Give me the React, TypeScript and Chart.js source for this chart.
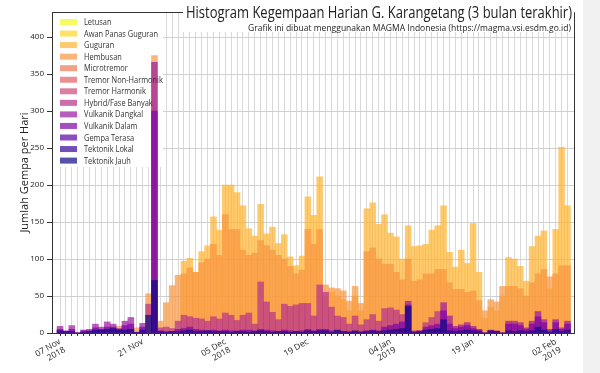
import React, { useEffect, useRef } from "react";
import { Chart, registerables } from "chart.js";

Chart.register(...registerables);

// ---------- data ----------
const START = new Date(Date.UTC(2018, 10, 7));
const DAY_COUNT = 87;
const categories: string[] = Array.from({ length: DAY_COUNT }, (_, i) => {
  const d = new Date(START.getTime() + i * 86400000);
  return d.toISOString().slice(0, 10);
});

const tickIndex = [0, 14, 28, 42, 56, 70, 84];
const tickLabels: string[][] = [
  ["07 Nov", "2018"],
  ["21 Nov"],
  ["05 Dec", "2018"],
  ["19 Dec"],
  ["04 Jan", "2019"],
  ["19 Jan"],
  ["02 Feb", "2019"],
];

const yTicks = [0, 50, 100, 150, 200, 250, 300, 350, 400];

const guguran = [
  0, 0, 0, 0, 0, 0, 0, 0, 0, 0, 0, 0, 0, 0, 0, 0, 0,
  0, 0, 0, 0,
  97, 101, 82, 110, 118, 157, 139, 200, 200, 190, 172, 141, 131, 174, 134, 143, 121, 133, 103, 91, 104, 184, 159, 211,
  50, 55, 50, 45, 30, 50, 30,
  168, 176, 147, 160, 135, 130, 100, 145, 117, 118, 120, 139, 145, 172, 109, 89, 112, 94, 148, 82,
  20, 35, 30, 50,
  102, 100, 90, 70, 117, 131, 138, 60, 140, 251, 172,
];

const hembusan = [
  0, 0, 0, 0, 0, 0, 0, 0, 0, 0, 9, 0, 0, 7, 0, 53, 375,
  16, 41, 64, 78,
  80, 88, 82, 95, 100, 120, 105, 160, 140, 140, 112, 105, 108, 125, 118, 112, 105, 100, 90, 80, 85, 140, 120, 140,
  65, 61, 60, 57, 43, 63, 40,
  110, 115, 100, 93, 93, 82, 72, 100, 70, 72, 80, 80, 86, 86, 68, 59, 59, 55, 57, 44,
  30, 45, 42, 63,
  63, 63, 60, 50, 68, 80, 86, 76, 80, 91, 91,
];

const hybrid = [
  0, 0, 0, 0, 0, 0, 0, 0, 0, 0, 0, 0, 0, 0, 0, 39, 0,
  7, 8, 6, 16,
  24, 22, 20, 19, 16, 22, 19, 27, 24, 17, 24, 27, 12, 69, 42, 28, 18, 39, 36, 38, 40, 40, 23, 65,
  55, 35, 23, 21, 12, 23, 11,
  18, 25, 16, 33, 34, 31, 25, 0, 3, 3, 14, 21, 29, 0, 0, 0, 0, 0, 0, 0,
  0, 0, 0, 0,
  0, 0, 0, 0, 0, 0, 0, 0, 0, 0, 0,
];

const vulkanikDangkal = [
  9, 3, 10, 0, 4, 5, 12, 8, 15, 12, 6, 16, 21, 0, 13, 0, 366,
  0, 0, 0, 0,
  0, 0, 0, 0, 0, 0, 0, 0, 0, 0, 0, 0, 0, 0, 0, 0, 0, 0, 0, 0, 0, 0, 0, 0,
  0, 0, 0, 0, 0, 0, 0,
  0, 0, 0, 0, 0, 0, 0, 43, 0, 0, 0, 0, 0, 41, 23, 9, 11, 14, 9, 5,
  0, 4, 3, 0,
  16, 16, 14, 7, 16, 29, 18, 5, 18, 7, 16,
];

const vulkanikDalam = [
  5, 2, 5, 0, 3, 3, 7, 5, 8, 8, 5, 10, 12, 1, 8, 0, 300,
  3, 2, 2, 5,
  6, 8, 5, 4, 3, 4, 3, 4, 3, 3, 4, 4, 3, 5, 4, 3, 2, 4, 3, 2, 3, 5, 3, 5,
  5, 3, 3, 2, 2, 2, 2,
  3, 4, 3, 8, 10, 12, 15, 38, 2, 3, 8, 10, 12, 30, 12, 6, 8, 10, 6, 4,
  0, 3, 2, 0,
  12, 12, 10, 5, 12, 22, 14, 3, 14, 5, 12,
];

const tektonikJauh = [
  3, 2, 2, 0, 1, 2, 4, 4, 5, 6, 4, 4, 5, 1, 4, 24, 71,
  2, 1, 2, 2,
  3, 4, 2, 2, 3, 2, 2, 2, 1, 2, 2, 1, 2, 3, 2, 1, 2, 2, 1, 2, 1, 3, 2, 3,
  3, 1, 4, 2, 1, 3, 1,
  2, 3, 2, 3, 4, 5, 6, 36, 1, 2, 4, 5, 6, 18, 3, 2, 3, 4, 3, 2,
  0, 3, 2, 0,
  3, 2, 3, 2, 3, 8, 4, 1, 5, 2, 4,
];

const emptySeries: number[] = [];

// legend order (top to bottom) with plasma colours
const seriesNames = [
  "Letusan",
  "Awan Panas Guguran",
  "Guguran",
  "Hembusan",
  "Microtremor",
  "Tremor Non-Harmonik",
  "Tremor Harmonik",
  "Hybrid/Fase Banyak",
  "Vulkanik Dangkal",
  "Vulkanik Dalam",
  "Gempa Terasa",
  "Tektonik Lokal",
  "Tektonik Jauh",
];
const seriesColors = [
  [240, 249, 33],
  [251, 213, 36],
  [253, 180, 47],
  [248, 149, 64],
  [237, 121, 83],
  [222, 95, 101],
  [204, 71, 120],
  [182, 48, 139],
  [156, 23, 158],
  [126, 3, 168],
  [92, 1, 166],
  [53, 4, 152],
  [13, 8, 135],
];
const seriesData = [
  emptySeries,
  emptySeries,
  guguran,
  hembusan,
  emptySeries,
  emptySeries,
  emptySeries,
  hybrid,
  vulkanikDangkal,
  vulkanikDalam,
  emptySeries,
  emptySeries,
  tektonikJauh,
];

const ALPHA = 0.7;
const rgba = (c: number[], a: number) => `rgba(${c[0]},${c[1]},${c[2]},${a})`;

const FONT = "'Open Sans', 'Noto Sans', sans-serif";

function drawFitText(
  ctx: CanvasRenderingContext2D,
  text: string,
  x: number,
  y: number,
  font: string,
  scaleX: number,
  align: CanvasTextAlign
) {
  ctx.save();
  ctx.font = font;
  ctx.textAlign = align;
  ctx.textBaseline = "alphabetic";
  ctx.translate(x, y);
  ctx.scale(scaleX, 1);
  ctx.fillText(text, 0, 0);
  ctx.restore();
}

function fitScale(ctx: CanvasRenderingContext2D, text: string, font: string, width: number) {
  ctx.save();
  ctx.font = font;
  const w = ctx.measureText(text).width;
  ctx.restore();
  return width / w;
}

const overlayPlugin = {
  id: "overlay",
  beforeDatasetsDraw(chart: any) {
    const { ctx, chartArea: a } = chart;
    ctx.save();
    ctx.fillStyle = "#ffffff";
    ctx.fillRect(a.left + 1, a.top + 1, 110, 154);
    ctx.restore();
  },
  afterDatasetsDraw(chart: any) {
    const { ctx, chartArea: a } = chart;
    const font = `8.5px ${FONT}`;
    const sx = fitScale(ctx, "Awan Panas Guguran", font, 74);
    seriesNames.forEach((name, k) => {
      const cy = a.top + 10 + k * 11.55;
      ctx.save();
      ctx.fillStyle = rgba(seriesColors[k], ALPHA);
      ctx.fillRect(a.left + 8, cy - 3, 17, 6);
      ctx.restore();
      ctx.fillStyle = "#333333";
      drawFitText(ctx, name, a.left + 32, cy + 3, font, sx, "left");
    });
  },
  afterDraw(chart: any) {
    const { ctx, chartArea: a } = chart;
    ctx.save();
    ctx.strokeStyle = "#333333";
    ctx.lineWidth = 1;
    ctx.beginPath();
    ctx.moveTo(a.left, a.top + 0.5);
    ctx.lineTo(a.right + 0.5, a.top + 0.5);
    ctx.lineTo(a.right + 0.5, a.bottom);
    ctx.stroke();
    // title box
    ctx.fillStyle = "#ffffff";
    ctx.fillRect(183, 0, a.right - 183, 32);
    ctx.fillStyle = "#222222";
    const t1 = "Histogram Kegempaan Harian G. Karangetang (3 bulan terakhir)";
    const f1 = `17px ${FONT}`;
    drawFitText(ctx, t1, a.right - 2, 17.5, f1, fitScale(ctx, t1, f1, 386), "right");
    const t2 = "Grafik ini dibuat menggunakan MAGMA Indonesia (https://magma.vsi.esdm.go.id)";
    const f2 = `9px ${FONT}`;
    drawFitText(ctx, t2, a.right - 3, 31, f2, fitScale(ctx, t2, f2, 323), "right");
    ctx.restore();
  },
};

export default function App() {
  const ref = useRef<HTMLCanvasElement | null>(null);

  useEffect(() => {
    if (!ref.current) return;
    // draw order: dataset 0 is painted last (on top) -> reverse legend order
    const order = seriesNames.map((_, k) => k).reverse();
    const datasets = order.map((k) => ({
      label: seriesNames[k],
      data: seriesData[k],
      backgroundColor: rgba(seriesColors[k], ALPHA),
      borderWidth: 0,
      barPercentage: 1,
      categoryPercentage: 1,
      grouped: false,
    }));

    const chart = new Chart(ref.current, {
      type: "bar",
      data: { labels: categories.map((_, i) => i), datasets },
      options: {
        responsive: false,
        animation: false,
        devicePixelRatio: 1,
        layout: { padding: { top: 12, right: 26, left: 0, bottom: 0 } },
        plugins: { legend: { display: false }, tooltip: { enabled: false }, title: { display: false } },
        scales: {
          x: {
            type: "linear",
            min: -1.36,
            max: 87.1,
            offset: false,
            grid: { offset: false, color: "#d9d9d9", tickColor: "#333333", tickLength: 3, lineWidth: 1 },
            border: { color: "#333333", width: 1 },
            afterBuildTicks: (s: any) => {
              s.ticks = categories.map((_, i) => ({ value: i }));
            },
            ticks: {
              autoSkip: false,
              maxRotation: 30,
              minRotation: 30,
              padding: 1,
              color: "#222222",
              font: { family: FONT, size: 8.5, lineHeight: 1.1 },
              callback: (v: any) => {
                const p = tickIndex.indexOf(Math.round(Number(v)));
                return p >= 0 ? tickLabels[p] : "";
              },
            },
            afterFit: (s: any) => {
              s.height = 40;
            },
          },
          y: {
            min: 0,
            max: 434,
            grid: { color: "#d0d0d0", tickColor: "#333333", tickLength: 5 },
            border: { color: "#333333", width: 1 },
            ticks: {
              stepSize: 50,
              padding: 3,
              color: "#222222",
              font: { family: FONT, size: 8 },
            },
            afterBuildTicks: (s: any) => {
              s.ticks = yTicks.map((v) => ({ value: v }));
            },
            title: {
              display: true,
              text: "Jumlah Gempa per Hari",
              color: "#222222",
              font: { family: FONT, size: 11 },
              padding: { top: 18, bottom: 0 },
            },
            afterFit: (s: any) => {
              s.width = 52;
            },
          },
        },
      },
      plugins: [overlayPlugin],
    } as any);
    return () => chart.destroy();
  }, []);

  return (
    <div
      style={{
        position: "absolute",
        left: 0,
        top: 0,
        width: 600,
        height: 373,
        background: "linear-gradient(to right, #ffffff 583px, #f1f1f1 583px)",
      }}
    >
      <canvas ref={ref} width={600} height={373} />
    </div>
  );
}
